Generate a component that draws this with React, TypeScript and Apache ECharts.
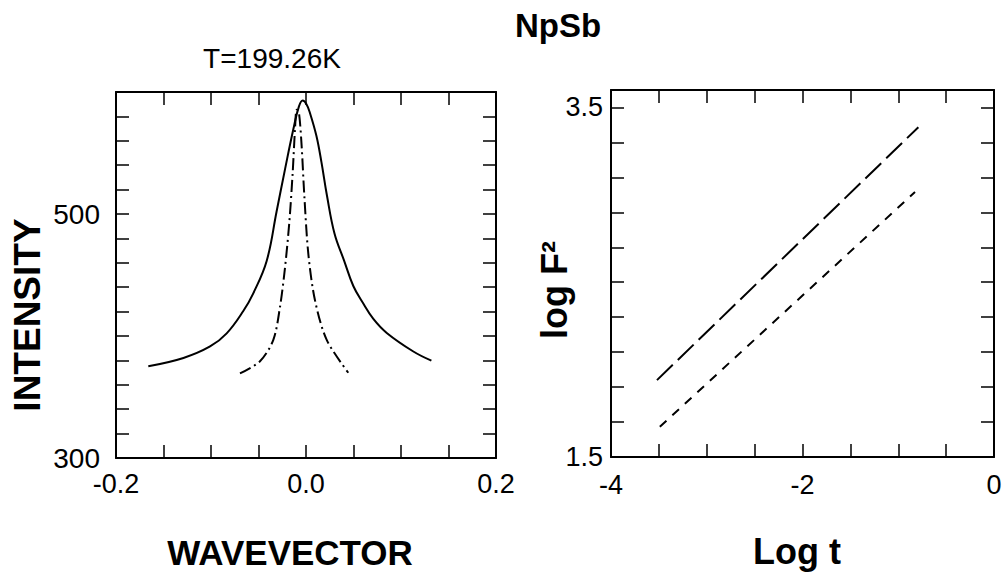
import React, { useEffect, useRef } from "react";
import * as echarts from "echarts";

// Left panel: scattering profile at T = 199.26 K
const solidProfile: [number, number][] = [
  [-0.166, 375.2], [-0.129, 382.0], [-0.101, 391.4], [-0.0835, 402.2],
  [-0.066, 420.5], [-0.0555, 435.0], [-0.0414, 461.5],
  [-0.031, 501.9], [-0.022, 537.0], [-0.0134, 569.2], [-0.0075, 588.0],
  [-0.0035, 593.0], [0.0005, 590.0], [0.0042, 582.7], [0.011, 563.9],
  [0.0163, 542.3], [0.022, 515.4], [0.03, 484.0], [0.04, 462.0],
  [0.0498, 441.0], [0.06, 427.0], [0.0709, 414.0], [0.085, 402.5],
  [0.113, 387.3], [0.132, 379.8],
];

const dashDotProfile: [number, number][] = [
  [-0.0695, 369.3], [-0.0484, 379.3], [-0.0344, 396.8], [-0.0274, 423.7],
  [-0.0221, 456.0], [-0.0175, 493.8], [-0.014, 534.2], [-0.0116, 569.2],
  [-0.0098, 585.4], [-0.0074, 582.7], [-0.0046, 555.8], [-0.0018, 515.4],
  [0.0025, 466.9], [0.0095, 429.1], [0.0218, 396.8], [0.0445, 369.9],
];

// Right panel: log F^2 versus log t
const longDashLine: [number, number][] = [[-3.52, 1.94], [-0.79, 3.387]];
const shortDashLine: [number, number][] = [[-3.49, 1.673], [-0.825, 3.016]];

// Tick positions and labels
const leftYLabels = [300, 500];
const leftXLabels = [-0.2, 0, 0.2];
const rightXLabels = [-4, -2, 0];
const rightYTicks = [1.7, 1.9, 2.1, 2.3, 2.5, 2.7, 2.9, 3.1, 3.3, 3.5];
const rightYLabels = [1.5, 3.5];

const FONT = "'Liberation Sans', Arial, Helvetica, sans-serif";

const near = (v: number, list: number[]) => list.some((t) => Math.abs(v - t) < 1e-6);

const frameLine = { show: true, onZero: false, lineStyle: { color: "#000", width: 2 } };
const innerTick = { show: true, inside: true, length: 13, lineStyle: { color: "#000", width: 1.5 } };
const labelStyle = { color: "#000", fontSize: 27, fontFamily: FONT };

export default function App() {
  const ref = useRef<HTMLDivElement>(null);

  useEffect(() => {
    if (!ref.current) return;
    const chart = echarts.init(ref.current, null, { renderer: "svg" });

    chart.setOption({
      animation: false,
      backgroundColor: "#fff",
      grid: [
        { left: 116, top: 92, width: 380, height: 366, outerBoundsMode: "none" },
        { left: 611, top: 90, width: 383, height: 367, outerBoundsMode: "none" },
      ],
      xAxis: [
        {
          type: "value", gridIndex: 0, position: "bottom", min: -0.2, max: 0.2, interval: 0.05,
          axisLine: frameLine, axisTick: innerTick, splitLine: { show: false },
          axisLabel: {
            ...labelStyle, margin: 12,
            formatter: (v: number) => (near(v, leftXLabels) ? v.toFixed(1) : ""),
          },
        },
        {
          type: "value", gridIndex: 0, position: "top", min: -0.2, max: 0.2, interval: 0.05,
          axisLine: frameLine, axisTick: innerTick, splitLine: { show: false },
          axisLabel: { show: false },
        },
        {
          type: "value", gridIndex: 1, position: "bottom", min: -4, max: 0, interval: 0.5,
          axisLine: frameLine, axisTick: innerTick, splitLine: { show: false },
          axisLabel: {
            ...labelStyle, margin: 14,
            formatter: (v: number) => (near(v, rightXLabels) ? String(Math.round(v)) : ""),
          },
        },
        {
          type: "value", gridIndex: 1, position: "top", min: -4, max: 0, interval: 0.5,
          axisLine: frameLine, axisTick: innerTick, splitLine: { show: false },
          axisLabel: { show: false },
        },
      ],
      yAxis: [
        {
          type: "value", gridIndex: 0, position: "left", min: 300, max: 600, interval: 20,
          axisLine: frameLine, axisTick: innerTick, splitLine: { show: false },
          axisLabel: {
            ...labelStyle, fontSize: 28, margin: 16,
            formatter: (v: number) => (near(v, leftYLabels) ? String(v) : ""),
          },
        },
        {
          type: "value", gridIndex: 0, position: "right", min: 300, max: 600, interval: 20,
          axisLine: frameLine, axisTick: innerTick, splitLine: { show: false },
          axisLabel: { show: false },
        },
        {
          type: "value", gridIndex: 1, position: "left", min: 1.5, max: 3.6,
          axisLine: frameLine,
          axisTick: { ...innerTick, customValues: rightYTicks },
          splitLine: { show: false },
          axisLabel: {
            ...labelStyle, margin: 8, customValues: rightYLabels,
            formatter: (v: number) => v.toFixed(1),
          },
        },
        {
          type: "value", gridIndex: 1, position: "right", min: 1.5, max: 3.6,
          axisLine: frameLine,
          axisTick: { ...innerTick, customValues: rightYTicks },
          splitLine: { show: false },
          axisLabel: { show: false },
        },
      ],
      series: [
        {
          type: "line", xAxisIndex: 0, yAxisIndex: 0, data: solidProfile,
          showSymbol: false, smooth: 0.4,
          lineStyle: { color: "#000", width: 2, type: "solid" },
        },
        {
          type: "line", xAxisIndex: 0, yAxisIndex: 0, data: dashDotProfile,
          showSymbol: false, smooth: 0.3,
          lineStyle: { color: "#000", width: 2, type: [12, 4, 2, 4] },
        },
        {
          type: "line", xAxisIndex: 2, yAxisIndex: 2, data: longDashLine,
          showSymbol: false,
          lineStyle: { color: "#000", width: 2, type: [22, 7] },
        },
        {
          type: "line", xAxisIndex: 2, yAxisIndex: 2, data: shortDashLine,
          showSymbol: false,
          lineStyle: { color: "#000", width: 2, type: [9, 8] },
        },
      ],
      graphic: [
        {
          type: "text", x: 558, y: 25,
          style: { text: "NpSb", fontSize: 33, fontWeight: "bold", fontFamily: FONT, fill: "#000", align: "center", verticalAlign: "middle" },
        },
        {
          type: "text", x: 272, y: 58,
          style: { text: "T=199.26K", fontSize: 28, fontFamily: FONT, fill: "#000", align: "center", verticalAlign: "middle" },
        },
        {
          type: "text", x: 27, y: 315, rotation: Math.PI / 2,
          style: { text: "INTENSITY", fontSize: 37, fontWeight: "bold", fontFamily: FONT, fill: "#000", align: "center", verticalAlign: "middle" },
        },
        {
          type: "text", x: 290, y: 552,
          style: { text: "WAVEVECTOR", fontSize: 35, fontWeight: "bold", fontFamily: FONT, fill: "#000", align: "center", verticalAlign: "middle" },
        },
        {
          type: "text", x: 554, y: 290, rotation: Math.PI / 2,
          style: { text: "log F²", fontSize: 36, fontWeight: "bold", fontFamily: FONT, fill: "#000", align: "center", verticalAlign: "middle" },
        },
        {
          type: "text", x: 797, y: 551,
          style: { text: "Log t", fontSize: 36, fontWeight: "bold", fontFamily: FONT, fill: "#000", align: "center", verticalAlign: "middle" },
        },
      ],
    });

    return () => chart.dispose();
  }, []);

  return (
    <div
      ref={ref}
      style={{ position: "absolute", left: 0, top: 0, width: 1005, height: 575 }}
    />
  );
}
